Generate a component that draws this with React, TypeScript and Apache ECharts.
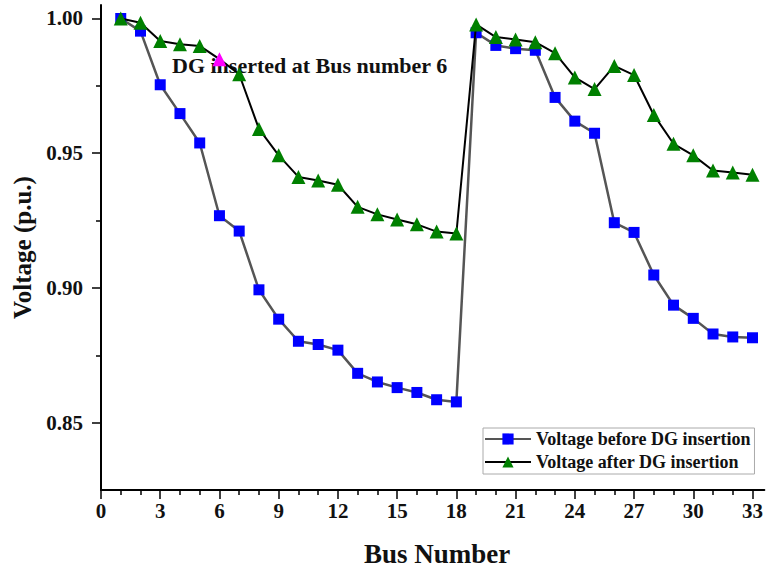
import React, { useEffect, useRef } from "react";
import * as echarts from "echarts";

const buses = [1, 2, 3, 4, 5, 6, 7, 8, 9, 10, 11, 12, 13, 14, 15, 16, 17, 18, 19, 20, 21, 22, 23, 24, 25, 26, 27, 28, 29, 30, 31, 32, 33];
const voltageBefore = [1.0, 0.9953, 0.9754, 0.9647, 0.9538, 0.9268, 0.9211, 0.8993, 0.8884, 0.8802, 0.879, 0.8769, 0.8683, 0.8651, 0.863, 0.8612, 0.8585, 0.8577, 0.9947, 0.99, 0.9888, 0.9882, 0.9707, 0.9619, 0.9574, 0.9242, 0.9206, 0.9048, 0.8936, 0.8887, 0.8829, 0.8818, 0.8815];
const voltageAfter = [1.0, 0.9984, 0.9916, 0.9904, 0.9898, 0.9849, 0.9793, 0.959, 0.9492, 0.9412, 0.9399, 0.9383, 0.9301, 0.9273, 0.9254, 0.9236, 0.9209, 0.9202, 0.9978, 0.9931, 0.9922, 0.9912, 0.9871, 0.9781, 0.9738, 0.9824, 0.979, 0.9642, 0.9535, 0.9492, 0.9436, 0.9428, 0.942];
const dgBus = 6;
const xMajorTicks = [0, 3, 6, 9, 12, 15, 18, 21, 24, 27, 30, 33];
const xMinorTicks = [1, 2, 4, 5, 7, 8, 10, 11, 13, 14, 16, 17, 19, 20, 22, 23, 25, 26, 28, 29, 31, 32];
const yMajorTicks = [0.85, 0.9, 0.95, 1.0];
const yMinorTicks = [0.875, 0.925, 0.975];
const seriesNames = ["Voltage before DG insertion", "Voltage after DG insertion"];
const annotation = "DG inserted at Bus number 6";

const FONT = "'Liberation Serif', 'Times New Roman', serif";

export default function App() {
  const ref = useRef<HTMLDivElement>(null);
  useEffect(() => {
    if (!ref.current) return;
    const chart = echarts.init(ref.current, null, { renderer: "svg" });
    const axisCommon = {
      min: 0,
      max: 33.6,
    };
    const yCommon = { min: 0.825, max: 1.005 };
    chart.setOption({
      animation: false,
      backgroundColor: "#ffffff",
      grid: { left: 101, right: 1, top: 5, bottom: 79, containLabel: false },
      xAxis: [
        {
          type: "value",
          ...axisCommon,
          position: "bottom",
          name: "Bus Number",
          nameLocation: "middle",
          nameGap: 50,
          nameTextStyle: { fontFamily: FONT, fontWeight: "bold", fontSize: 27, color: "#111", padding: [0, 0, 0, 9] },
          axisLine: { show: true, onZero: false, lineStyle: { color: "#000", width: 2 } },
          axisTick: { show: true, inside: false, length: 9, customValues: xMajorTicks, lineStyle: { color: "#000", width: 1.5 } },
          axisLabel: { show: true, customValues: xMajorTicks, margin: 10, fontFamily: FONT, fontWeight: "bold", fontSize: 21, color: "#111", formatter: (v: number) => String(v) },
          splitLine: { show: false },
        },
        {
          type: "value",
          ...axisCommon,
          position: "bottom",
          axisLine: { show: false },
          axisTick: { show: true, inside: false, length: 5, customValues: xMinorTicks, lineStyle: { color: "#000", width: 1.5 } },
          axisLabel: { show: false },
          splitLine: { show: false },
        },
      ],
      yAxis: [
        {
          type: "value",
          ...yCommon,
          position: "left",
          name: "Voltage (p.u.)",
          nameLocation: "middle",
          nameGap: 64,
          nameRotate: 90,
          nameTextStyle: { fontFamily: FONT, fontWeight: "bold", fontSize: 25, color: "#111" },
          axisLine: { show: true, onZero: false, lineStyle: { color: "#000", width: 2 } },
          axisTick: { show: true, inside: false, length: 9, customValues: yMajorTicks, lineStyle: { color: "#000", width: 1.5 } },
          axisLabel: { show: true, customValues: yMajorTicks, margin: 18, fontFamily: FONT, fontWeight: "bold", fontSize: 21, color: "#111", formatter: (v: number) => v.toFixed(2) },
          splitLine: { show: false },
        },
        {
          type: "value",
          ...yCommon,
          position: "left",
          axisLine: { show: false },
          axisTick: { show: true, inside: false, length: 5, customValues: yMinorTicks, lineStyle: { color: "#000", width: 1.5 } },
          axisLabel: { show: false },
          splitLine: { show: false },
        },
      ],
      legend: {
        orient: "vertical",
        left: 483,
        top: 428,
        width: 278,
        padding: [2, 4, 3, 1],
        itemGap: 5,
        itemWidth: 46,
        itemHeight: 14,
        borderColor: "#aaa",
        borderWidth: 1,
        textStyle: { fontFamily: FONT, fontWeight: "bold", fontSize: 18, lineHeight: 18, color: "#111" },
        data: seriesNames,
      },
      graphic: [
        {
          type: "text",
          x: 172,
          y: 65,
          z: 1,
          style: { text: annotation, fontFamily: FONT, fontWeight: "bold", fontSize: 22, fill: "#111", verticalAlign: "middle" },
        },
      ],
      series: [
        {
          name: seriesNames[0],
          type: "line",
          xAxisIndex: 0,
          yAxisIndex: 0,
          data: buses.map((b, i) => [b, voltageBefore[i]]),
          symbol: "rect",
          symbolSize: 11,
          itemStyle: { color: "#0000ff" },
          lineStyle: { color: "#555555", width: 2.5 },
          z: 3,
        },
        {
          name: seriesNames[1],
          type: "line",
          xAxisIndex: 0,
          yAxisIndex: 0,
          data: buses.map((b, i) =>
            b === dgBus
              ? { value: [b, voltageAfter[i]], itemStyle: { color: "#ff00ff" } }
              : [b, voltageAfter[i]]
          ),
          symbol: "triangle",
          symbolSize: 14,
          itemStyle: { color: "#008000" },
          lineStyle: { color: "#000000", width: 2 },
          z: 4,
        },
      ],
    });
    return () => chart.dispose();
  }, []);
  return <div ref={ref} style={{ width: 766, height: 572, position: "absolute", left: 0, top: 0 }} />;
}
